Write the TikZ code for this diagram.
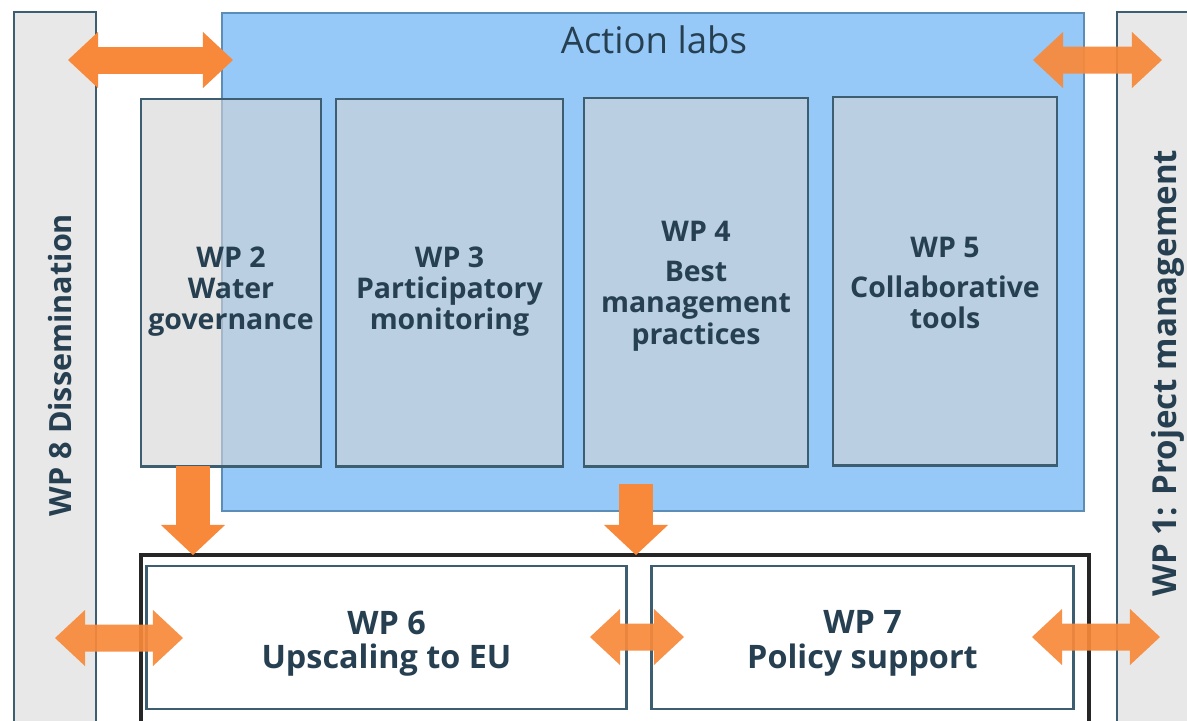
\documentclass[tikz,border=0pt]{standalone}
\usepackage{fontspec}
\setmainfont{Open Sans}
\usetikzlibrary{arrows.meta}
\definecolor{txt}{HTML}{263F51}
\definecolor{edge}{HTML}{3D5E70}
\definecolor{barfill}{HTML}{E8E8E8}
\definecolor{labblue}{HTML}{96C9F8}
\definecolor{labedge}{HTML}{5B8DB6}
\definecolor{wpfill}{HTML}{D4D4D4}
\definecolor{arr}{HTML}{F8893A}
\tikzset{
  bar/.style={draw=edge, line width=0.7pt, fill=barfill, inner sep=0pt},
  bartext/.style={text=txt, font=\bfseries\fontsize{8.7}{10}\selectfont, rotate=90, inner sep=0pt},
  lab/.style={draw=labedge, line width=0.6pt, fill=labblue, inner sep=0pt},
  wpbox/.style={draw=edge, line width=0.8pt, fill=wpfill, fill opacity=0.6, draw opacity=1, text opacity=1,
    inner sep=0pt, align=center, text=txt, font=\bfseries\fontsize{8.1}{8.9}\selectfont},
  outerbox/.style={draw=black!85, line width=1.1pt, inner sep=0pt},
  lowbox/.style={draw=edge, line width=0.8pt, fill=white, inner sep=0pt, align=center, text=txt,
    font=\bfseries\fontsize{9.2}{9.8}\selectfont},
  harrow/.style={draw=arr, line width=0.27cm,
    {Triangle[length=0.30cm,width=0.56cm,line width=0pt]}-{Triangle[length=0.30cm,width=0.56cm,line width=0pt]}},
  varrow/.style={draw=arr, line width=0.34cm,
    -{Triangle[length=0.30cm,width=0.64cm,line width=0pt]}},
}
\begin{document}
\begin{tikzpicture}[x=0.01cm,y=-0.01cm]
\clip (0,0) rectangle (1187,720);
\fill[white] (0,0) rectangle (1187,720);
% side bars
\node[bar, minimum width=0.82cm, minimum height=7.4cm] (wp8) at (55,382) {};
\node[bartext] (wp8t) at (60,365) {WP 8 Dissemination};
\node[bar, minimum width=0.92cm, minimum height=7.4cm] (wp1) at (1163,382) {};
\node[bartext, font=\bfseries\fontsize{9.4}{11}\selectfont] (wp1t) at (1168,373) {WP 1: Project management};
% action labs
\node[lab, minimum width=8.62cm, minimum height=4.98cm] (labs) at (653,262) {};
\node[text=txt, font=\fontsize{10.4}{12}\selectfont, inner sep=0pt] (labst) at (654,40) {Action labs};
% WP boxes
\node[wpbox, minimum width=1.80cm, minimum height=3.67cm] (wp2) at (231,282.5) {};
\node[wpbox, minimum width=2.27cm, minimum height=3.67cm] (wp3) at (449.5,282.5) {};
\node[wpbox, minimum width=2.24cm, minimum height=3.68cm] (wp4) at (696,282) {};
\node[wpbox, minimum width=2.24cm, minimum height=3.68cm] (wp5) at (945,281) {};
\node[wpbox, draw=none, fill=none] (wp2t) at ([yshift=-0.09cm]wp2.center) {WP 2\\Water\\governance};
\node[wpbox, draw=none, fill=none] (wp3t) at ([yshift=-0.09cm]wp3.center) {WP 3\\Participatory\\monitoring};
\node[wpbox, draw=none, fill=none] (wp4t) at ([yshift=-0.04cm]wp4.center) {WP 4\\[2.5pt]Best\\management\\practices};
\node[wpbox, draw=none, fill=none] (wp5t) at ([yshift=-0.02cm]wp5.center) {WP 5\\[2.5pt]Collaborative\\tools};
% bottom
\node[outerbox, minimum width=9.48cm, minimum height=1.95cm] (outer) at (615,652.5) {};
\node[lowbox, minimum width=4.79cm, minimum height=1.43cm] (wp6) at (386.5,637.5) {};
\node[lowbox, minimum width=4.21cm, minimum height=1.43cm] (wp7) at (862.5,637.5) {};
\node[lowbox, draw=none, fill=none] (wp6t) at ([yshift=-0.06cm]wp6.center) {WP 6\\Upscaling to EU};
\node[lowbox, draw=none, fill=none] (wp7t) at ([yshift=-0.06cm]wp7.center) {WP 7\\Policy support};
% arrow end points
\coordinate (a1s) at (68,60);   \coordinate (a1e) at (233,60);
\coordinate (a2s) at (1033,60); \coordinate (a2e) at (1162,60);
\coordinate (d1s) at (193,466); \coordinate (d1e) at (193,555);
\coordinate (d2s) at (636,484); \coordinate (d2e) at (636,555);
\coordinate (b1s) at (55,638);  \coordinate (b1e) at (183,638);
\coordinate (b2s) at (590,637); \coordinate (b2e) at (684,637);
\coordinate (b3s) at (1032,637);\coordinate (b3e) at (1160,637);
% arrows
\draw[harrow] (a1s) -- (a1e);
\begin{scope}[transparency group, opacity=0.93]
\draw[harrow] (a2s) -- (a2e);
\end{scope}
\draw[varrow] (d1s) -- (d1e);
\draw[varrow] (d2s) -- (d2e);
\begin{scope}[transparency group, opacity=0.92]
\draw[harrow] (b1s) -- (b1e);
\end{scope}
\begin{scope}[transparency group, opacity=0.92]
\draw[harrow] (b2s) -- (b2e);
\end{scope}
\begin{scope}[transparency group, opacity=0.92]
\draw[harrow] (b3s) -- (b3e);
\end{scope}
\end{tikzpicture}
\end{document}
